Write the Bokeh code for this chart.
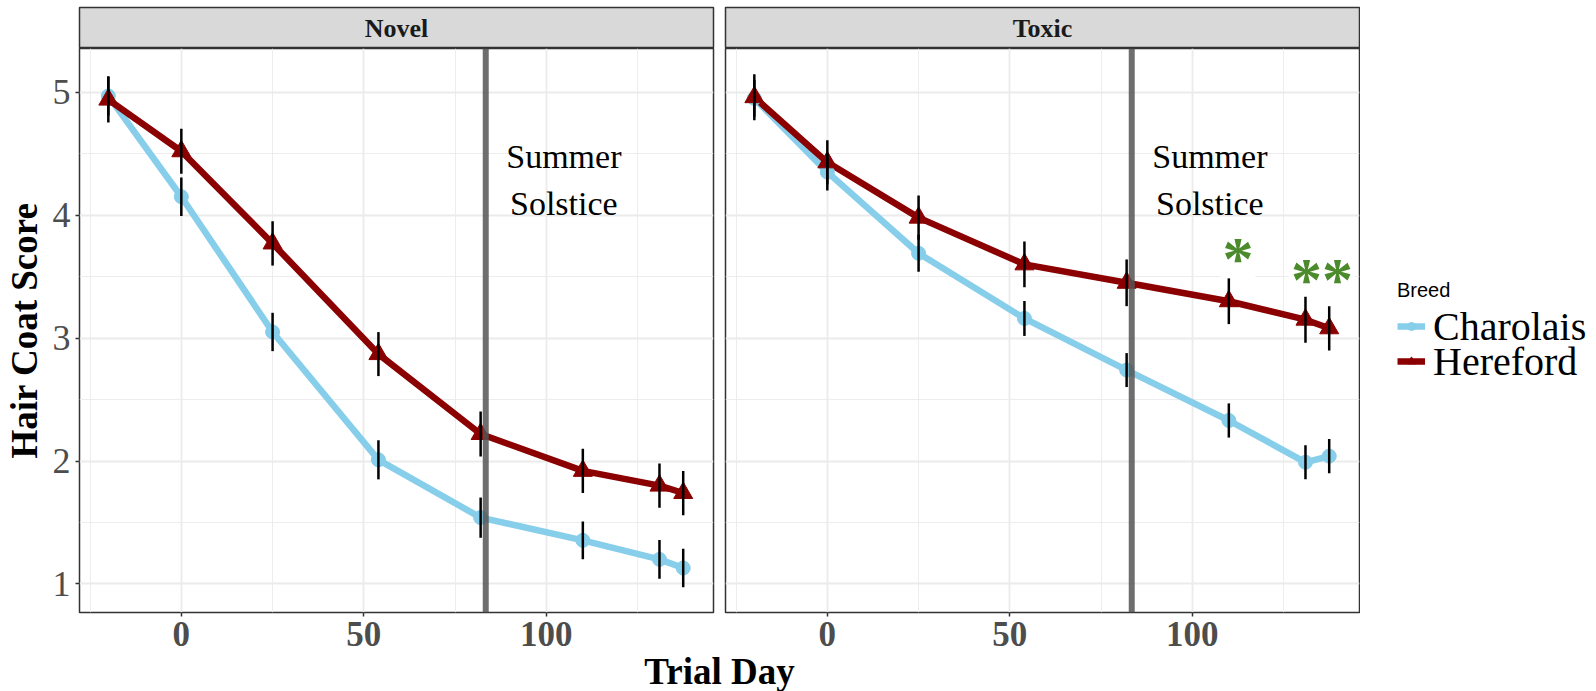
from bokeh.plotting import figure
from bokeh.models import (ColumnDataSource, FixedTicker, Span, Label, Legend,
                          LegendItem, Range1d)
from bokeh.layouts import row, column
from bokeh.embed import file_html
from bokeh.resources import INLINE
from bokeh.core.properties import value

# ---------------- data ----------------
days = [-20, 0, 25, 54, 82, 110, 131, 137.5]
panels = ["Novel", "Toxic"]
breeds = ["Charolais", "Hereford"]

novel_charolais = [4.97, 4.15, 3.05, 2.01, 1.54, 1.355, 1.20, 1.13]
novel_charolais_se = [0.16, 0.156, 0.156, 0.159, 0.163, 0.154, 0.158, 0.156]
novel_hereford = [4.94, 4.52, 3.77, 2.87, 2.22, 1.92, 1.80, 1.74]
novel_hereford_se = [0.186, 0.183, 0.18, 0.179, 0.183, 0.18, 0.18, 0.18]

toxic_charolais = [4.95, 4.35, 3.69, 3.16, 2.74, 2.33, 1.99, 2.04]
toxic_charolais_se = [0.15, 0.15, 0.15, 0.142, 0.138, 0.139, 0.139, 0.139]
toxic_hereford = [4.96, 4.43, 3.98, 3.60, 3.45, 3.30, 3.15, 3.08]
toxic_hereford_se = [0.187, 0.18, 0.18, 0.186, 0.19, 0.186, 0.187, 0.18]

solstice_day = 83.4
solstice_text = "Summer\nSolstice"
solstice_label_x = 104.8
solstice_label_y = 4.285

sig_days = [112.5, 135.5]
sig_scores = [3.65, 3.48]
sig_labels = ["*", "**"]

x_ticks = [0, 50, 100]
x_minor = [-25, 25, 75, 125]
y_ticks = [1, 2, 3, 4, 5]
y_minor = [1.5, 2.5, 3.5, 4.5]

colors = {"Charolais": "#87CEEB", "Hereford": "#8B0000"}
markers = {"Charolais": "circle", "Hereford": "triangle"}
msize = {"Charolais": 14, "Hereford": 19}

series = {
    "Novel": {"Charolais": (novel_charolais, novel_charolais_se),
              "Hereford": (novel_hereford, novel_hereford_se)},
    "Toxic": {"Charolais": (toxic_charolais, toxic_charolais_se),
              "Hereford": (toxic_hereford, toxic_hereford_se)},
}

SERIF = "Liberation Serif"
SANS = "Liberation Sans"
FRAME_W = 634
FRAME_H = 564
BOTTOM = 70
X_RANGE = (-27.9, 145.8)
Y_RANGE = (0.768, 5.356)
TOTAL_H = 48 + FRAME_H + BOTTOM
PAGE_H = 691
TITLE_TOP = 640
TITLE_OVERLAP = TOTAL_H - TITLE_TOP


def make_strip(name, left, right):
    s = figure(frame_width=FRAME_W, frame_height=41, x_range=Range1d(0, 1),
               y_range=Range1d(0, 1), toolbar_location=None,
               output_backend="svg", x_axis_location=None,
               y_axis_location=None, title=None)
    s.min_border_left = left
    s.min_border_right = right
    s.min_border_top = 7
    s.min_border_bottom = 0
    s.grid.visible = False
    s.background_fill_color = "#d9d9d9"
    s.outline_line_color = "#333333"
    s.outline_line_width = 1.5
    s.add_layout(Label(x=0.5, y=0.5, text=name, text_align="center",
                       text_baseline="middle", text_font=SERIF,
                       text_font_style="bold", text_font_size="26px",
                       text_color="#1a1a1a"))
    return s


def make_panel(name, left, right, show_y):
    p = figure(frame_width=FRAME_W, frame_height=FRAME_H,
               x_range=Range1d(*X_RANGE), y_range=Range1d(*Y_RANGE),
               toolbar_location=None, output_backend="svg", title=None,
               y_axis_location="left" if show_y else None)
    p.min_border_left = left
    p.min_border_right = right
    p.min_border_top = 0
    p.min_border_bottom = BOTTOM
    p.background_fill_color = "white"
    p.border_fill_alpha = 0
    p.outline_line_color = "#333333"
    p.outline_line_width = 1.5

    xt = FixedTicker(ticks=x_ticks, minor_ticks=x_minor)
    yt = FixedTicker(ticks=y_ticks, minor_ticks=y_minor)
    p.xaxis.ticker = xt
    p.xgrid.ticker = xt
    p.ygrid.ticker = yt
    for g in (p.xgrid[0], p.ygrid[0]):
        g.grid_line_color = "#ebebeb"
        g.grid_line_width = 1.8
        g.minor_grid_line_color = "#ebebeb"
        g.minor_grid_line_width = 0.9

    ax = p.xaxis[0]
    ax.axis_label = None
    ax.axis_line_color = None
    ax.major_tick_out = 4
    ax.major_tick_in = 0
    ax.major_tick_line_color = "#333333"
    ax.major_tick_line_width = 1.5
    ax.minor_tick_line_color = None
    ax.major_label_standoff = 5
    ax.major_label_text_font = SERIF
    ax.major_label_text_font_style = "bold"
    ax.major_label_text_font_size = "35px"
    ax.major_label_text_color = "#4d4d4d"

    if show_y:
        ay = p.yaxis[0]
        ay.ticker = yt
        ay.axis_line_color = None
        ay.major_tick_out = 4
        ay.major_tick_in = 0
        ay.major_tick_line_color = "#333333"
        ay.major_tick_line_width = 1.5
        ay.minor_tick_line_color = None
        ay.major_label_standoff = 5
        ay.major_label_text_font = SERIF
        ay.major_label_text_font_style = "normal"
        ay.major_label_text_font_size = "36px"
        ay.major_label_text_color = "#4d4d4d"
        ay.axis_label = "Hair Coat Score"
        ay.axis_label_text_font = SERIF
        ay.axis_label_text_font_style = "bold"
        ay.axis_label_text_font_size = "37px"
        ay.axis_label_text_color = "black"
        ay.axis_label_standoff = 5
    return p


def add_series(p, name):
    sources = {}
    for b in breeds:
        vals, se = series[name][b]
        sources[b] = ColumnDataSource(dict(
            x=days, y=vals,
            lo=[v - e for v, e in zip(vals, se)],
            hi=[v + e for v, e in zip(vals, se)]))
    for b in breeds:
        p.line("x", "y", source=sources[b], line_color=colors[b], line_width=6.5)
    for b in breeds:
        p.scatter("x", "y", source=sources[b], marker=markers[b],
                  size=msize[b], fill_color=colors[b], line_color=colors[b])
    span = Span(location=solstice_day, dimension="height",
                line_color="#555555", line_alpha=0.85, line_width=6)
    p.add_layout(span)
    for b in breeds:
        p.segment(x0="x", y0="lo", x1="x", y1="hi", source=sources[b],
                  line_color="black", line_width=2.5)
    p.text(x=[solstice_label_x], y=[solstice_label_y], text=[solstice_text],
           text_align="center", text_baseline="middle",
           text_font=value(SERIF), text_font_size="34px",
           text_color="black", text_line_height=1.28)


strip1 = make_strip("Novel", 79, 6)
strip2 = make_strip("Toxic", 6, 1)
p1 = make_panel("Novel", 79, 6, True)
p2 = make_panel("Toxic", 6, 1, False)

# significance markers (drawn first so data lines sit on top of their boxes)
sig_kw = dict(text_align="center", text_baseline="middle",
              text_font=value(SERIF), text_font_style="bold",
              text_font_size="62px", text_color="#4b8b2b")
try:
    p2.text(x=sig_days, y=sig_scores, text=sig_labels,
            background_fill_color="white", padding=2, **sig_kw)
except Exception:
    p2.text(x=sig_days, y=sig_scores, text=sig_labels, **sig_kw)

add_series(p1, "Novel")
add_series(p2, "Toxic")

# ---------------- legend figure ----------------
lf = figure(width=236, height=TOTAL_H, x_range=Range1d(0, 1),
            y_range=Range1d(0, 1), toolbar_location=None,
            output_backend="svg", x_axis_location=None,
            y_axis_location=None, title=None)
lf.min_border = 0
lf.grid.visible = False
lf.outline_line_color = None
nan = float("nan")
leg_items = {}
for b in breeds:
    lr = lf.line(x=[nan], y=[nan], line_color=colors[b], line_width=6.5)
    sr = lf.scatter(x=[nan], y=[nan], marker=markers[b], size=msize[b],
                    fill_color=colors[b], line_color=colors[b])
    leg_items[b] = LegendItem(label=b, renderers=[lr, sr])

ITEM_H = 45.8
LEG_X = 37
centers = {"Charolais": 327, "Hereford": 362}


def style_legend(lg):
    lg.title_text_font = SANS
    lg.title_text_font_style = "normal"
    lg.title_text_font_size = "20px"
    lg.title_text_color = "black"
    lg.title_standoff = 1
    lg.label_text_font = SERIF
    lg.label_text_font_size = "40px"
    lg.label_text_color = "black"
    lg.label_standoff = 8
    lg.glyph_width = 28
    lg.glyph_height = 20
    lg.spacing = 0
    lg.padding = 0
    lg.margin = 0
    lg.border_line_color = None
    lg.background_fill_alpha = 0


leg_a = Legend(items=[leg_items["Charolais"]], title="Breed",
               location=(LEG_X, TOTAL_H - (centers["Charolais"] + ITEM_H / 2)))
leg_b = Legend(items=[leg_items["Hereford"]],
               location=(LEG_X, TOTAL_H - (centers["Hereford"] + ITEM_H / 2)))
style_legend(leg_a)
style_legend(leg_b)
lf.add_layout(leg_a)
lf.add_layout(leg_b)

# ---------------- x title figure (overlaps the empty axis margin) ----------------
tf_h = PAGE_H - TITLE_TOP
tf = figure(width=1596, height=tf_h, x_range=Range1d(0, 1),
            y_range=Range1d(0, 1), toolbar_location=None,
            output_backend="svg", x_axis_location=None,
            y_axis_location=None, title=None)
tf.min_border = 0
tf.grid.visible = False
tf.outline_line_color = None
tf.border_fill_alpha = 0
tf.background_fill_alpha = 0
tf.margin = (-TITLE_OVERLAP, 0, 0, 0)
tf.add_layout(Label(x=719, y=20, x_units="screen", y_units="screen",
                    text="Trial Day", text_align="center",
                    text_baseline="alphabetic", text_font=SERIF,
                    text_font_style="bold", text_font_size="37px",
                    text_color="black"))

layout = column(row(column(strip1, p1), column(strip2, p2), lf), tf)

with open("out.html", "w") as f:
    f.write(file_html(layout, INLINE))
